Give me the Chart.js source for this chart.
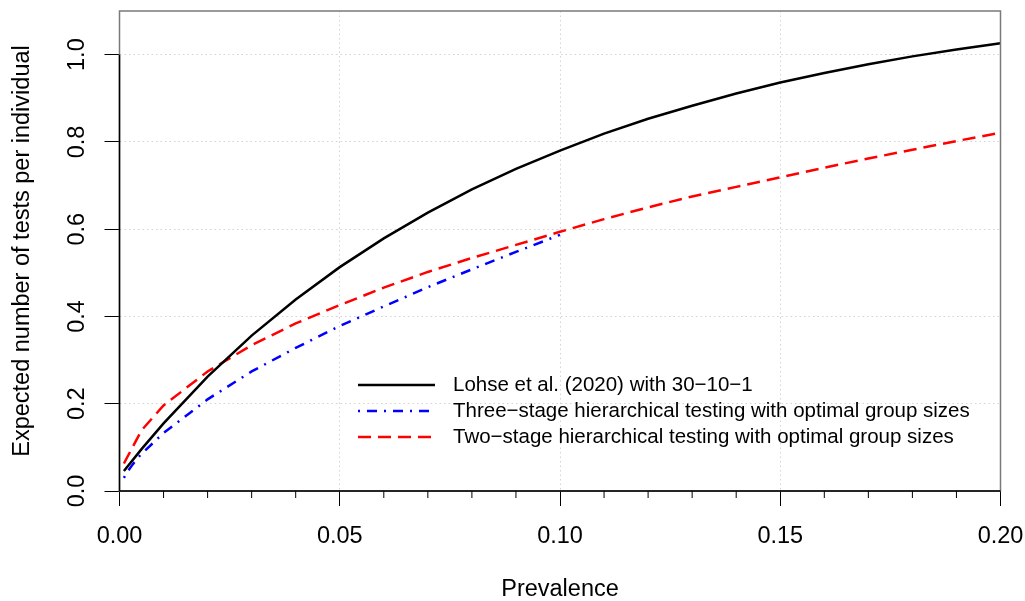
<!DOCTYPE html>
<html>
<head>
<meta charset="utf-8">
<script src="https://cdn.jsdelivr.net/npm/chart.js@4"></script>
<style>
  html, body { margin: 0; padding: 0; background: #fff; }
  canvas { display: block; }
</style>
</head>
<body>
<canvas id="testsChart" width="1025" height="601"></canvas>
<script>
// prevalence grid for the 30-10-1 scheme and the two-stage curve
let prevalence = [0.001, 0.005, 0.01, 0.02, 0.03, 0.04, 0.05, 0.06, 0.07, 0.08, 0.09, 0.10,
                  0.11, 0.12, 0.13, 0.14, 0.15, 0.16, 0.17, 0.18, 0.19, 0.20]
let lohseTests = [0.046, 0.096, 0.155, 0.262, 0.356, 0.439, 0.513, 0.579, 0.638, 0.691, 0.738, 0.780,
                  0.819, 0.853, 0.883, 0.911, 0.936, 0.958, 0.978, 0.996, 1.012, 1.026]
let twoStageTests = [0.063, 0.139, 0.196, 0.274, 0.334, 0.384, 0.426, 0.466, 0.502, 0.534, 0.564, 0.594,
                     0.623, 0.650, 0.675, 0.697, 0.719, 0.741, 0.762, 0.782, 0.802, 0.821]
// three-stage curve only goes up to 0.10
let prevalenceThree = [0.001, 0.002, 0.003, 0.004, 0.005, 0.01, 0.02, 0.03, 0.04, 0.05, 0.06, 0.07, 0.08, 0.09, 0.10]
let threeStageTests = [0.030, 0.047, 0.061, 0.074, 0.085, 0.133, 0.210, 0.274, 0.328, 0.378, 0.423, 0.467, 0.508, 0.548, 0.587]

let seriesLabels = [
  "Lohse et al. (2020) with 30\u221210\u22121",
  "Three\u2212stage hierarchical testing with optimal group sizes",
  "Two\u2212stage hierarchical testing with optimal group sizes"
]

let xTickValues = [0, 0.05, 0.10, 0.15, 0.20]
let xTickLabels = ["0.00", "0.05", "0.10", "0.15", "0.20"]
let xMinorTicks = [0.01, 0.02, 0.03, 0.04, 0.06, 0.07, 0.08, 0.09, 0.11, 0.12, 0.13, 0.14, 0.16, 0.17, 0.18, 0.19]
let yTickValues = [0, 0.2, 0.4, 0.6, 0.8, 1.0]
let yTickLabels = ["0.0", "0.2", "0.4", "0.6", "0.8", "1.0"]

let fontFamily = "'Liberation Sans', Arial, Helvetica, sans-serif"
let axisFontSize = 23.5
let legendFontSize = 20.5

function toPoints(xs, ys) {
  return xs.map(function(x, i) {
    return { x: x, y: ys[i] }
  })
}

// R style frame, minor ticks, rotated y labels and legend
let rStylePlugin = {
  id: "rStyle",
  afterDatasetsDraw(chart) {
    let ctx = chart.ctx
    let area = chart.chartArea
    let xScale = chart.scales.x
    let yScale = chart.scales.y
    ctx.save()

    ctx.strokeStyle = "#7a7a7a"
    ctx.lineWidth = 1.5
    ctx.strokeRect(area.left, area.top, area.right - area.left, area.bottom - area.top)

    ctx.strokeStyle = "#000"
    ctx.beginPath()
    ctx.moveTo(xScale.getPixelForValue(xTickValues[0]), area.bottom)
    ctx.lineTo(xScale.getPixelForValue(xTickValues[xTickValues.length - 1]), area.bottom)
    ctx.moveTo(area.left, yScale.getPixelForValue(yTickValues[0]))
    ctx.lineTo(area.left, yScale.getPixelForValue(yTickValues[yTickValues.length - 1]))
    ctx.stroke()

    ctx.lineWidth = 1
    ctx.beginPath()
    xMinorTicks.forEach(function(v) {
      let px = xScale.getPixelForValue(v)
      ctx.moveTo(px, area.bottom)
      ctx.lineTo(px, area.bottom + 7)
    })
    ctx.stroke()

    ctx.fillStyle = "#000"
    ctx.font = axisFontSize + "px " + fontFamily
    ctx.textAlign = "center"
    ctx.textBaseline = "middle"
    yTickValues.forEach(function(v, i) {
      ctx.save()
      ctx.translate(78, yScale.getPixelForValue(v))
      ctx.rotate(-Math.PI / 2)
      ctx.fillText(yTickLabels[i], 0, 0)
      ctx.restore()
    })

    // legend, no box
    let legendX = 358
    let legendY = 385
    ctx.font = legendFontSize + "px " + fontFamily
    ctx.textAlign = "left"
    chart.data.datasets.forEach(function(ds, i) {
      let y = legendY + i * 26
      ctx.save()
      ctx.strokeStyle = ds.borderColor
      ctx.lineWidth = ds.borderWidth
      ctx.setLineDash(ds.borderDash || [])
      ctx.beginPath()
      ctx.moveTo(legendX, y)
      ctx.lineTo(legendX + 77, y)
      ctx.stroke()
      ctx.restore()
      ctx.fillText(ds.label, legendX + 95, y)
    })
    ctx.restore()
  }
}

let dotted = { color: "#d3d3d3", lineWidth: 1, tickColor: "#000", tickWidth: 1, tickLength: 15 }

new Chart(document.querySelector("#testsChart"), {
  type: "line",
  data: {
    datasets: [
      {
        label: seriesLabels[0],
        data: toPoints(prevalence, lohseTests),
        borderColor: "#000000",
        borderWidth: 2.5,
        pointRadius: 0,
        tension: 0
      },
      {
        label: seriesLabels[1],
        data: toPoints(prevalenceThree, threeStageTests),
        borderColor: "#0000ff",
        borderWidth: 2.5,
        borderDash: [2, 7, 10, 7],
        pointRadius: 0,
        tension: 0
      },
      {
        label: seriesLabels[2],
        data: toPoints(prevalence, twoStageTests),
        borderColor: "#ff0000",
        borderWidth: 2.5,
        borderDash: [13, 7],
        pointRadius: 0,
        tension: 0
      }
    ]
  },
  options: {
    responsive: false,
    devicePixelRatio: 1,
    animation: false,
    layout: { padding: { top: 11, right: 24.5, left: 0, bottom: 0 } },
    plugins: {
      legend: { display: false },
      tooltip: { enabled: false }
    },
    scales: {
      x: {
        type: "linear",
        min: 0,
        max: 0.2,
        afterBuildTicks: function(scale) {
          scale.ticks = xTickValues.map(function(v) { return { value: v } })
        },
        afterFit: function(scale) {
          scale.height = 110
          scale.paddingLeft = 0
          scale.paddingRight = 0
        },
        ticks: {
          autoSkip: false,
          maxRotation: 0,
          padding: 16,
          color: "#000",
          font: { size: axisFontSize, family: fontFamily },
          callback: function(value, index) { return xTickLabels[index] }
        },
        grid: dotted,
        border: { display: false, dash: [1.5, 3] },
        title: {
          display: true,
          text: "Prevalence",
          color: "#000",
          padding: { top: 0, bottom: -3 },
          font: { size: axisFontSize, family: fontFamily }
        }
      },
      y: {
        type: "linear",
        min: 0,
        max: 1.1,
        afterBuildTicks: function(scale) {
          scale.ticks = yTickValues.map(function(v) { return { value: v } })
        },
        afterFit: function(scale) {
          scale.width = 119.5
          scale.paddingTop = 0
          scale.paddingBottom = 0
        },
        ticks: { display: false },
        grid: dotted,
        border: { display: false, dash: [1.5, 3] },
        title: {
          display: true,
          text: "Expected number of tests per individual",
          color: "#000",
          padding: { top: 8, bottom: 0 },
          font: { size: axisFontSize, family: fontFamily }
        }
      }
    }
  },
  plugins: [rStylePlugin]
})
</script>
</body>
</html>
